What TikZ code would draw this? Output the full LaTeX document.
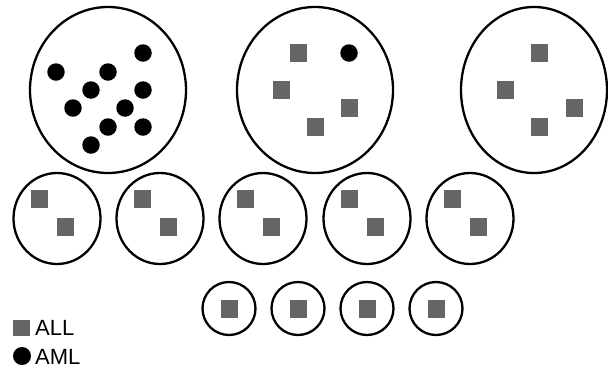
\documentclass[tikz,border=0pt]{standalone}
\usepackage{fontspec}
\setmainfont{Liberation Sans}
\tikzset{
  kor/.style={draw,line width=2.3pt},
  negy/.style={rectangle,fill=black!60,minimum width=17pt,minimum height=17.5pt,inner sep=0pt},
  kerek/.style={circle,fill,minimum size=17.5pt,inner sep=0pt},
  jel/.style={anchor=base west,inner sep=0pt,font=\fontsize{22}{26}\selectfont},
}
\begin{document}
\begin{tikzpicture}[x=1pt,y=-1pt]
  \useasboundingbox (0,0) rectangle (608,373);
  % nagy korok
  \draw[kor] (108,90) ellipse [x radius=78,y radius=83];
  \draw[kor] (315,90) ellipse [x radius=78,y radius=83];
  \draw[kor] (534,90) ellipse [x radius=73,y radius=83];
  \foreach \x/\y [count=\i] in {56/72,108/72,143/53,91/90,143/90,73/108,125/108,108/127,143/127,91/145}
    \node[kerek] (a\i) at (\x,\y) {};
  \foreach \x/\y [count=\i] in {298/53,281/90,349/108,315/127}
    \node[negy] (b\i) at (\x,\y) {};
  \node[kerek] (b5) at (349,53) {};
  \foreach \x/\y [count=\i] in {539/53,505/90,574/108,539/127}
    \node[negy] (c\i) at (\x,\y) {};
  % kozepso sor
  \foreach \cx [count=\i] in {57,160,263,367,470} {
    \draw[kor] (\cx,218.5) ellipse [x radius=43.5,y radius=45.5];
    \node[negy] (d\i) at (\cx-17.5,199) {};
    \node[negy] (e\i) at (\cx+8.5,227) {};
  }
  % also sor
  \foreach \cx [count=\i] in {229,298,367,436} {
    \draw[kor] (\cx,308.5) circle (26.5);
    \node[negy] (f\i) at (\cx,309) {};
  }
  % jelmagyarazat
  \node[negy,minimum height=16pt] (lall) at (21.5,327.5) {};
  \node[jel] (tall) at (35,335.5) {ALL};
  \node[kerek,minimum width=18pt,minimum height=16pt] (laml) at (22,356) {};
  \node[jel] (taml) at (35,364) {AML};
\end{tikzpicture}
\end{document}
